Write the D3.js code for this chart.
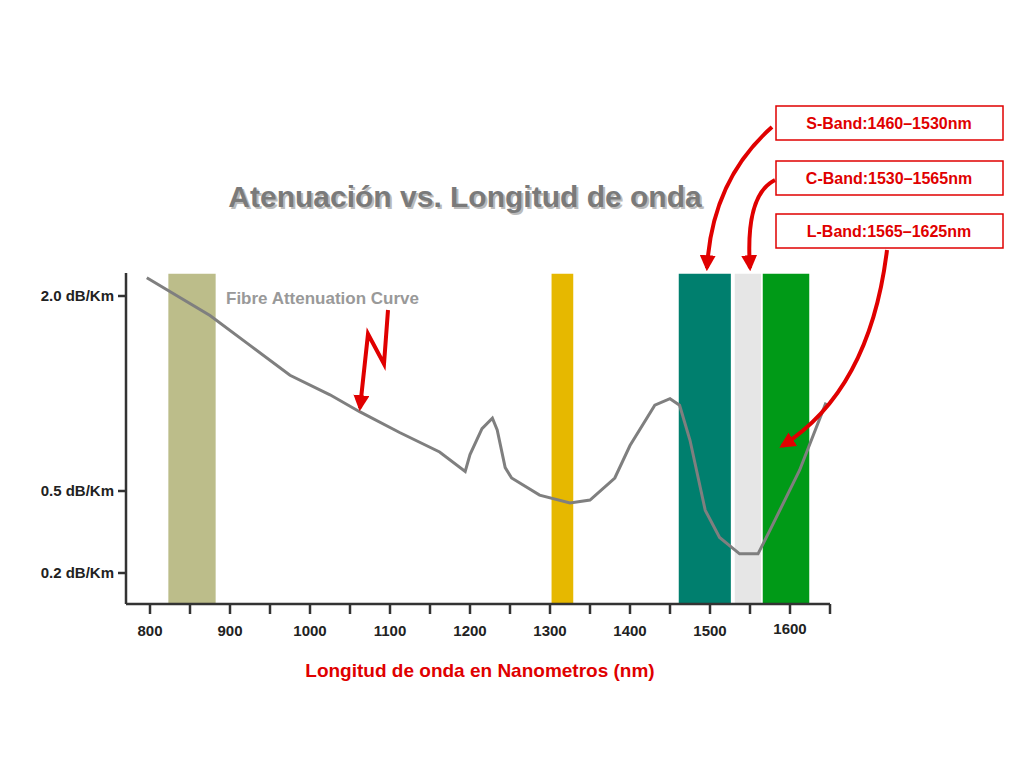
<!DOCTYPE html>
<html><head><meta charset="utf-8">
<script src="https://cdn.jsdelivr.net/npm/d3@7"></script>
<style>body{margin:0;background:#fff}text{font-family:Arial,"Liberation Sans",sans-serif}</style>
</head><body>
<svg width="1024" height="768"></svg>
<script>
const svg = d3.select('svg');

// attenuation curve: wavelength nm, dB/Km
const wavelengths = [796,875,925,975,1025,1062,1112,1162,1194,1200,1215,1228,1234,1244,1252,1287,1325,1350,1381,1400,1431,1450,1462,1475,1494,1512,1537,1560,1575,1612,1645];
const attenuation = [2.14,1.85,1.62,1.39,1.24,1.11,0.95,0.80,0.65,0.78,0.98,1.06,0.97,0.68,0.60,0.485,0.456,0.467,0.60,0.85,1.16,1.21,1.16,0.89,0.43,0.33,0.27,0.27,0.357,0.66,1.18];

const bandStart = [822,1301,1460,1530,1565];
const bandEnd = [883,1330,1527,1565,1625];
const bandColors = ['#bcbd8a','#e6b800','#007f6e','#e6e6e6','#009a17'];

const xTicks = [800,900,1000,1100,1200,1300,1400,1500,1600];
const yTicks = [2.0,0.5,0.2];
const yTickLabels = ['2.0 dB/Km','0.5 dB/Km','0.2 dB/Km'];

const callouts = ['S-Band:1460\u20131530nm','C-Band:1530\u20131565nm','L-Band:1565\u20131625nm'];

const x = d3.scaleLinear().domain([800,1600]).range([150,790]);
const y = d3.scaleLinear().domain([2.0,0.5,0.2]).range([296,491,573]);
const plotTop = 273, plotBottom = 604, plotLeft = 126, plotRight = 830;

// title
svg.append('text').attr('x',465).attr('y',207).attr('text-anchor','middle')
  .attr('font-size',30).attr('font-weight','bold').attr('fill','#bbb')
  .text('Atenuación vs. Longitud de onda').attr('transform','translate(2,2)');
svg.append('text').attr('x',465).attr('y',207).attr('text-anchor','middle')
  .attr('font-size',30).attr('font-weight','bold').attr('fill','#7a7a7a')
  .text('Atenuación vs. Longitud de onda');

// bands
svg.selectAll('rect.band').data(bandStart).enter().append('rect')
  .attr('x',d=>x(d)).attr('y',plotTop)
  .attr('width',(d,i)=>x(bandEnd[i])-x(d)).attr('height',plotBottom-plotTop)
  .attr('fill',(d,i)=>bandColors[i]).attr('stroke','#fff').attr('stroke-width',1.5);

// axes
svg.append('line').attr('x1',plotLeft).attr('x2',plotLeft).attr('y1',plotTop).attr('y2',plotBottom).attr('stroke','#333').attr('stroke-width',2.5);
svg.append('line').attr('x1',plotLeft).attr('x2',plotRight).attr('y1',plotBottom).attr('y2',plotBottom).attr('stroke','#333').attr('stroke-width',2.5);
const minor = d3.range(800,1651,50);
svg.selectAll('line.xt').data(minor).enter().append('line')
  .attr('x1',d=>x(d)).attr('x2',d=>x(d)).attr('y1',plotBottom).attr('y2',plotBottom+10)
  .attr('stroke','#333').attr('stroke-width',2.5);
svg.selectAll('text.xt').data(xTicks).enter().append('text')
  .attr('x',d=>x(d)).attr('y',d=>d===1600?634:636).attr('text-anchor','middle')
  .attr('font-size',15).attr('font-weight','bold').attr('fill','#222').text(d=>d);
svg.selectAll('line.yt').data(yTicks).enter().append('line')
  .attr('x1',plotLeft-8).attr('x2',plotLeft).attr('y1',d=>y(d)).attr('y2',d=>y(d))
  .attr('stroke','#333').attr('stroke-width',2.5);
svg.selectAll('text.yt').data(yTicks).enter().append('text')
  .attr('x',plotLeft-12).attr('y',d=>y(d)+5).attr('text-anchor','end')
  .attr('font-size',15).attr('font-weight','bold').attr('fill','#222').text((d,i)=>yTickLabels[i]);

svg.append('text').attr('x',480).attr('y',677).attr('text-anchor','middle')
  .attr('font-size',19).attr('font-weight','bold').attr('fill','#e00000')
  .text('Longitud de onda en Nanometros (nm)');

// curve
const line = d3.line().x(d=>x(d[0])).y(d=>y(d[1]));
svg.append('path').datum(wavelengths.map((w,i)=>[w,attenuation[i]]))
  .attr('d',line).attr('fill','none').attr('stroke','#7f7f7f').attr('stroke-width',3);

svg.append('text').attr('x',226).attr('y',304).attr('font-size',17).attr('font-weight','bold')
  .attr('fill','#999').text('Fibre Attenuation Curve');

// arrows
const defs = svg.append('defs');
defs.append('marker').attr('id','ah').attr('viewBox','0 0 10 10').attr('refX',8).attr('refY',5)
  .attr('markerWidth',4).attr('markerHeight',4).attr('orient','auto')
  .append('path').attr('d','M0,0L10,5L0,10z').attr('fill','#e00000');

svg.append('path').attr('d','M388,310 L384,364 L368,334 L360,408')
  .attr('fill','none').attr('stroke','#e00000').attr('stroke-width',4).attr('marker-end','url(#ah)');
svg.append('path').attr('d','M772,127 Q712,180 707,268')
  .attr('fill','none').attr('stroke','#e00000').attr('stroke-width',4).attr('marker-end','url(#ah)');
svg.append('path').attr('d','M775,180 Q745,195 750,268')
  .attr('fill','none').attr('stroke','#e00000').attr('stroke-width',4).attr('marker-end','url(#ah)');
svg.append('path').attr('d','M887,250 Q870,390 782,446')
  .attr('fill','none').attr('stroke','#e00000').attr('stroke-width',4).attr('marker-end','url(#ah)');

// callout boxes
const boxY = [106,161,214];
svg.selectAll('rect.co').data(callouts).enter().append('rect')
  .attr('x',776).attr('y',(d,i)=>boxY[i]).attr('width',227).attr('height',34)
  .attr('fill','#fff').attr('stroke','#e00000').attr('stroke-width',1.5);
svg.selectAll('text.co').data(callouts).enter().append('text')
  .attr('x',889).attr('y',(d,i)=>boxY[i]+23).attr('text-anchor','middle')
  .attr('font-size',16).attr('font-weight','bold').attr('fill','#e00000').text(d=>d);
</script>
</body></html>
